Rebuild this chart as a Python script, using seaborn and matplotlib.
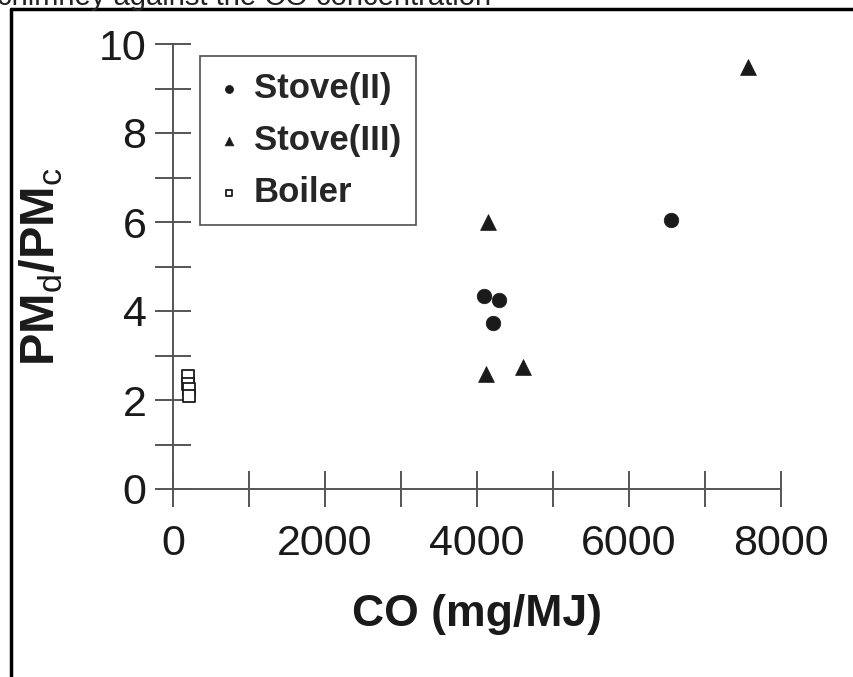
import numpy as np
import pandas as pd
import matplotlib
matplotlib.use("Agg")
import matplotlib.pyplot as plt
from matplotlib.ticker import MultipleLocator
import seaborn as sns

# values
stove2_co = [4090, 4290, 4210, 6550]
stove2_ratio = [4.34, 4.25, 3.73, 6.04]
stove3_co = [4145, 4120, 4600, 7560]
stove3_ratio = [6.0, 2.58, 2.74, 9.48]
boiler_co = [200, 200, 215, 205]
boiler_ratio = [2.53, 2.35, 2.25, 2.08]

x_ticks = [0, 2000, 4000, 6000, 8000]
y_ticks = [0, 2, 4, 6, 8, 10]

sns.set_style("ticks")
plt.rcParams["font.family"] = ["Liberation Sans", "DejaVu Sans"]
plt.rcParams["mathtext.fontset"] = "custom"
plt.rcParams["mathtext.rm"] = "Liberation Sans"
plt.rcParams["mathtext.bf"] = "Liberation Sans:bold"

fig = plt.figure(figsize=(8.54, 6.77), dpi=100)
ax = fig.add_axes([173 / 854, 1 - 489 / 677, 608 / 854, 445 / 677])

ink = "#1a1a1a"
sns.scatterplot(x=stove2_co, y=stove2_ratio, marker="o", s=110, color=ink,
                edgecolor=ink, linewidth=0.5, label="Stove(II)", ax=ax, clip_on=False)
sns.scatterplot(x=stove3_co, y=stove3_ratio, marker="^", s=130, color=ink,
                edgecolor=ink, linewidth=0.5, label="Stove(III)", ax=ax, clip_on=False)
sns.scatterplot(x=boiler_co, y=boiler_ratio, marker="s", s=80, facecolor="white",
                edgecolor=ink, linewidth=1.3, label="Boiler", ax=ax, clip_on=False)

ax.set_xlim(0, 8000)
ax.set_ylim(0, 10)
ax.set_xticks(x_ticks)
ax.set_yticks(y_ticks)
ax.xaxis.set_minor_locator(MultipleLocator(1000))
ax.yaxis.set_minor_locator(MultipleLocator(1))

spine_col = "#555555"
for side in ["top", "right"]:
    ax.spines[side].set_visible(False)
for side in ["left", "bottom"]:
    ax.spines[side].set_color(spine_col)
    ax.spines[side].set_linewidth(1.4)

ax.tick_params(which="both", direction="inout", length=26, width=1.4,
               color=spine_col, labelcolor=ink)
ax.tick_params(axis="x", which="major", labelsize=31, pad=12)
ax.tick_params(axis="y", which="major", labelsize=31, pad=6)

ax.set_xlabel("CO (mg/MJ)", fontsize=32, fontweight="bold", color=ink, labelpad=22)
ax.set_ylabel(r"$\mathbf{PM}_{\mathrm{d}}\mathbf{/PM}_{\mathrm{c}}$", fontsize=35,
              color=ink)
ax.yaxis.set_label_coords(-0.178, 0.5)

leg = ax.legend(loc="upper left", bbox_to_anchor=(0.044, 0.972),
                prop={"weight": "bold", "size": 25}, markerscale=0.55,
                frameon=True, fancybox=False, handletextpad=0.3,
                borderpad=0.45, labelspacing=0.55, handlelength=0.8,
                borderaxespad=0)
leg.get_frame().set_edgecolor("#222222")
leg.get_frame().set_linewidth(1.2)

# cropped caption from the page above and the scan's frame
fig.text(-0.004, 1 - 5 / 677, "chimney against the CO concentration",
         fontsize=21, color="#222222", va="baseline", ha="left")
fig.add_artist(plt.Line2D([11 / 854, 11 / 854], [0, 1 - 9 / 677],
                          transform=fig.transFigure, color="black", linewidth=2.5))
fig.add_artist(plt.Line2D([11 / 854, 1], [1 - 9 / 677, 1 - 9 / 677],
                          transform=fig.transFigure, color="black", linewidth=2.5))

fig.savefig("out.png", dpi=100)
